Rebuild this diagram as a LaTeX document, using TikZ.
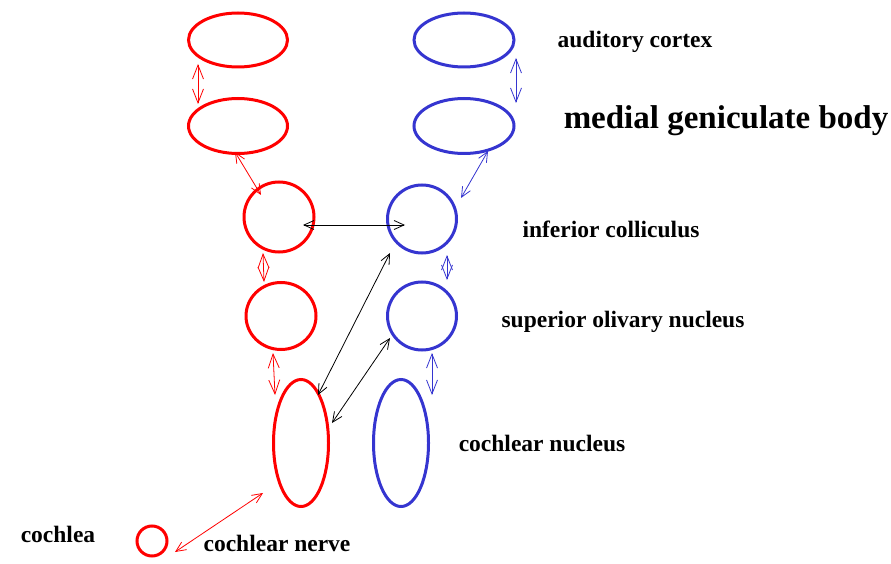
\documentclass[tikz,border=0pt]{standalone}
\usepackage{fontspec}
\setmainfont{Liberation Serif}
\usetikzlibrary{shapes.geometric,arrows.meta}

\begin{document}
\begin{tikzpicture}[x=1pt,y=-1pt,
    nucleus/.style={ellipse,draw,line width=3pt,inner sep=0pt},
    link/.style={line width=0.8pt,{Straight Barb[length=10pt,width=9pt]}-{Straight Barb[length=10pt,width=9pt]}},
    longLink/.style={line width=0.8pt,{Straight Barb[length=14pt,width=11pt]}-{Straight Barb[length=14pt,width=11pt]}},
    nameText/.style={font=\bfseries\fontsize{23.5}{23.5}\selectfont,inner sep=0pt}]
    \definecolor{leftColour}{HTML}{FF0000}
    \definecolor{rightColour}{HTML}{3535D0}

    \useasboundingbox (0,0) rectangle (891,564);

    % Left pathway
    \node[nucleus,draw=leftColour,minimum width=99pt,minimum height=54pt] (acL) at (238,40) {};
    \node[nucleus,draw=leftColour,minimum width=99pt,minimum height=55pt] (mgL) at (238,126) {};
    \node[nucleus,draw=leftColour,minimum width=70pt,minimum height=70pt] (icL) at (279,217) {};
    \node[nucleus,draw=leftColour,minimum width=70pt,minimum height=67pt] (soL) at (281,316) {};
    \node[nucleus,draw=leftColour,minimum width=55pt,minimum height=127pt] (cnL) at (301,443) {};
    \node[nucleus,draw=leftColour,minimum width=30pt,minimum height=30pt] (cochlea) at (152,541) {};

    % Right pathway
    \node[nucleus,draw=rightColour,minimum width=100pt,minimum height=54pt] (acR) at (464,40) {};
    \node[nucleus,draw=rightColour,minimum width=100pt,minimum height=55pt] (mgR) at (464,126) {};
    \node[nucleus,draw=rightColour,minimum width=69pt,minimum height=68pt] (icR) at (422,219) {};
    \node[nucleus,draw=rightColour,minimum width=69pt,minimum height=68pt] (soR) at (422,316) {};
    \node[nucleus,draw=rightColour,minimum width=55pt,minimum height=127pt] (cnR) at (401,443) {};

    % Left links
    \draw[longLink,leftColour] ([shift={(-40,24)}]acL.center) -- ([shift={(-40,-22)}]mgL.center);
    \draw[link,leftColour] ([shift={(-3,26)}]mgL.center) -- ([shift={(-18,-22)}]icL.center);
    \draw[longLink,leftColour] ([shift={(-16,36)}]icL.center) -- ([shift={(-17,-34)}]soL.center);
    \draw[longLink,leftColour] ([shift={(-8,37)}]soL.center) -- ([shift={(-26,-48)}]cnL.center);
    \draw[link,leftColour] ([shift={(23,11)}]cochlea.center) -- ([shift={(-38,50)}]cnL.center);

    % Right links
    \draw[longLink,rightColour] ([shift={(52,18)}]acR.center) -- ([shift={(52,-23)}]mgR.center);
    \draw[link,rightColour] ([shift={(24,25)}]mgR.center) -- ([shift={(39,-21)}]icR.center);
    \draw[longLink,rightColour] ([shift={(25,36)}]icR.center) -- ([shift={(25,-36)}]soR.center);
    \draw[longLink,rightColour] ([shift={(10,37)}]soR.center) -- ([shift={(31,-48)}]cnR.center);

    % Crossing links
    \draw[link] ([shift={(24,8)}]icL.center) -- ([shift={(-17,6)}]icR.center);
    \draw[link] ([shift={(-32,34)}]icR.center) -- ([shift={(17,-48)}]cnL.center);
    \draw[link] ([shift={(-32,22)}]soR.center) -- ([shift={(31,-20)}]cnL.center);

    % Names
    \node[nameText] (acName) at (635,42) {auditory cortex};
    \node[nameText,font=\bfseries\fontsize{33}{33}\selectfont] (mgName) at (726,121) {medial geniculate body};
    \node[nameText] (icName) at (611,229) {inferior colliculus};
    \node[nameText] (soName) at (623,322) {superior olivary nucleus};
    \node[nameText] (cnName) at (542,443) {cochlear nucleus};
    \node[nameText] (cochleaName) at (58,534) {cochlea};
    \node[nameText] (nerveName) at (277,543) {cochlear nerve};

\end{tikzpicture}
\end{document}
